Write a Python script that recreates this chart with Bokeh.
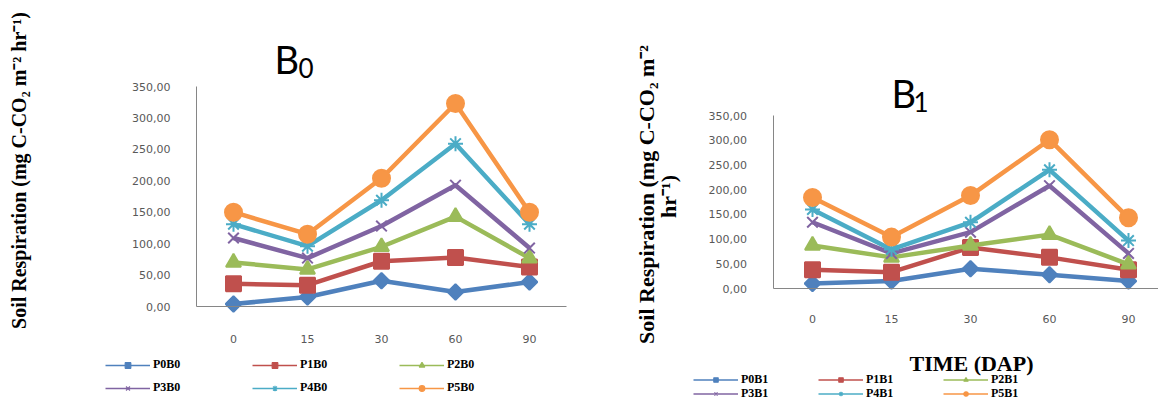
import numpy as np
from bokeh.plotting import figure
from bokeh.layouts import row
from bokeh.models import Range1d, FixedTicker, Legend, LegendItem, Label
from bokeh.embed import file_html
from bokeh.resources import INLINE

# ---------------- data ----------------
days = ["0", "15", "30", "60", "90"]
y_ticks = [0, 50, 100, 150, 200, 250, 300, 350]
y_tick_labels = ["0,00", "50,00", "100,00", "150,00", "200,00", "250,00", "300,00", "350,00"]

names_b0 = ["P0B0", "P1B0", "P2B0", "P3B0", "P4B0", "P5B0"]
P0B0 = [4, 15, 41, 23, 39]
P1B0 = [36, 34, 72, 78, 63]
P2B0 = [70, 59, 95, 143, 77]
P3B0 = [109, 77, 128, 193, 93]
P4B0 = [131, 96, 169, 259, 131]
P5B0 = [150, 115, 204, 323, 150]

names_b1 = ["P0B1", "P1B1", "P2B1", "P3B1", "P4B1", "P5B1"]
P0B1 = [10, 15, 40, 28, 15]
P1B1 = [38, 33, 83, 63, 38]
P2B1 = [87, 63, 87, 109, 49]
P3B1 = [134, 71, 114, 208, 71]
P4B1 = [160, 79, 134, 240, 97]
P5B1 = [184, 104, 188, 301, 143]

ylabel_full = "Soil Respiration (mg C-CO\u2082 m\u207b\u00b2 hr\u207b\u00b9)"
ylabel_line1 = "Soil Respiration (mg C-CO\u2082 m\u207b\u00b2"
ylabel_line2 = "hr\u207b\u00b9)"
xlabel_text = "TIME (DAP)"

colors = ["#4F81BD", "#C0504D", "#9BBB59", "#8064A2", "#4BACC6", "#F79646"]
markers = ["square", "square", "triangle", "x", "asterisk", "circle"]
angles = [np.pi / 4, 0, 0, 0, 0, 0]
sizes = [11, 15, 15, 15, 15, 17]
legend_sizes = [6, 8, 8, 8, 8, 8]

AXIS_COLOR = "#868686"
TICK_COLOR = "#595959"
SERIF = "Liberation Serif"
H = 403


def make_panel(series, names, fig_left, width, x0_px, x_pitch, y0_px, y350_px,
               tick_standoff, legend_rows, legend_x, legend_spacing, glyph_h,
               title_sub, title_x, title_y, sub_dx, sub_y):
    x_pos = list(range(len(days)))
    ppu = (y0_px - y350_px) / 350.0
    xr = Range1d((fig_left - x0_px) / x_pitch, (fig_left + width - x0_px) / x_pitch)
    yr = Range1d(-(H - y0_px) / ppu, y0_px / ppu)
    p = figure(width=width, height=H, output_backend="svg", toolbar_location=None,
               x_range=xr, y_range=yr,
               min_border_left=0, min_border_right=0, min_border_top=0, min_border_bottom=0)
    p.title.visible = False
    p.outline_line_color = None
    p.xgrid.visible = False
    p.ygrid.visible = False
    p.background_fill_color = "white"

    for ax in (p.xaxis[0], p.yaxis[0]):
        ax.axis_line_color = AXIS_COLOR
        ax.axis_line_width = 1
        ax.major_tick_line_color = None
        ax.minor_tick_line_color = None
        ax.major_label_text_font = "DejaVu Sans"
        ax.major_label_text_font_size = "11px"
        ax.major_label_text_color = TICK_COLOR
    p.yaxis[0].ticker = FixedTicker(ticks=y_ticks)
    p.yaxis[0].major_label_overrides = {t: l for t, l in zip(y_ticks, y_tick_labels)}
    p.yaxis[0].major_label_standoff = 20
    p.yaxis[0].fixed_location = -0.5
    p.yaxis[0].bounds = (0, 350)
    p.xaxis[0].ticker = FixedTicker(ticks=x_pos)
    p.xaxis[0].major_label_overrides = {i: d for i, d in zip(x_pos, days)}
    p.xaxis[0].major_label_standoff = tick_standoff
    p.xaxis[0].fixed_location = 0
    p.xaxis[0].bounds = (-0.5, len(days) - 0.5)

    items = []
    for ys, name, c, m, a, ls in zip(series, names, colors, markers, angles, legend_sizes):
        l1 = p.line(x_pos, ys, line_color=c, line_width=1.5)
        s1 = p.scatter(x_pos, ys, marker=m, angle=a, size=ls, fill_color=c,
                       line_color=c, line_width=1.2)
        items.append(LegendItem(label=name, renderers=[l1, s1]))
    for ys, c, m, a, s in zip(series, colors, markers, angles, sizes):
        p.line(x_pos, ys, line_color=c, line_width=4.5, line_join="round")
        p.scatter(x_pos, ys, marker=m, angle=a, size=s, fill_color=c,
                  line_color=c, line_width=2)

    for r, vy in enumerate(legend_rows):
        lg = Legend(items=items[3 * r:3 * r + 3], orientation="horizontal",
                    location=(legend_x, vy), padding=0, margin=0, spacing=legend_spacing,
                    glyph_width=45, glyph_height=glyph_h, label_height=glyph_h,
                    label_width=60, label_standoff=3,
                    label_text_font=SERIF, label_text_font_style="bold",
                    label_text_font_size="12px", label_text_color="black",
                    background_fill_alpha=0, border_line_color=None)
        p.add_layout(lg, "center")

    p.add_layout(Label(x=title_x, y=title_y, x_units="screen", y_units="screen", text="B",
                       text_font="Lato", text_font_size="38px",
                       text_baseline="alphabetic", text_color="black"))
    p.add_layout(Label(x=title_x + sub_dx, y=sub_y, x_units="screen", y_units="screen",
                       text=title_sub, text_font="Lato", text_font_size="26px",
                       text_baseline="alphabetic", text_color="black"))
    return p


def vlabel(p, text, x, y, size):
    p.add_layout(Label(x=x, y=y, x_units="screen", y_units="screen", text=text,
                       angle=np.pi / 2, text_align="center", text_baseline="middle",
                       text_font=SERIF, text_font_style="bold", text_font_size=size,
                       text_color="black"))


# left panel: page x 0..600
p0 = make_panel([P0B0, P1B0, P2B0, P3B0, P4B0, P5B0], names_b0,
                fig_left=0, width=600, x0_px=233, x_pitch=74, y0_px=306, y350_px=86,
                tick_standoff=22, legend_rows=[H - 372, H - 395], legend_x=105,
                legend_spacing=39, glyph_h=14,
                title_sub="0", title_x=274, title_y=H - 58, sub_dx=24, sub_y=H - 67)
vlabel(p0, ylabel_full, 18.5, H - 170, "20px")

# right panel: page x 600..1158
p1 = make_panel([P0B1, P1B1, P2B1, P3B1, P4B1, P5B1], names_b1,
                fig_left=600, width=558, x0_px=812, x_pitch=79, y0_px=288, y350_px=115,
                tick_standoff=20, legend_rows=[H - 387, H - 401], legend_x=93,
                legend_spacing=17, glyph_h=11,
                title_sub="1", title_x=291, title_y=H - 92, sub_dx=22, sub_y=H - 101)
vlabel(p1, ylabel_line1, 45.5, H - 194, "22px")
vlabel(p1, ylabel_line2, 67.5, H - 196, "22px")
p1.add_layout(Label(x=371, y=H - 363, x_units="screen", y_units="screen", text=xlabel_text,
                    text_align="center", text_baseline="middle", text_font=SERIF,
                    text_font_style="bold", text_font_size="22px", text_color="black"))

layout = row(p0, p1)
open("out.html", "w").write(file_html(layout, INLINE))
